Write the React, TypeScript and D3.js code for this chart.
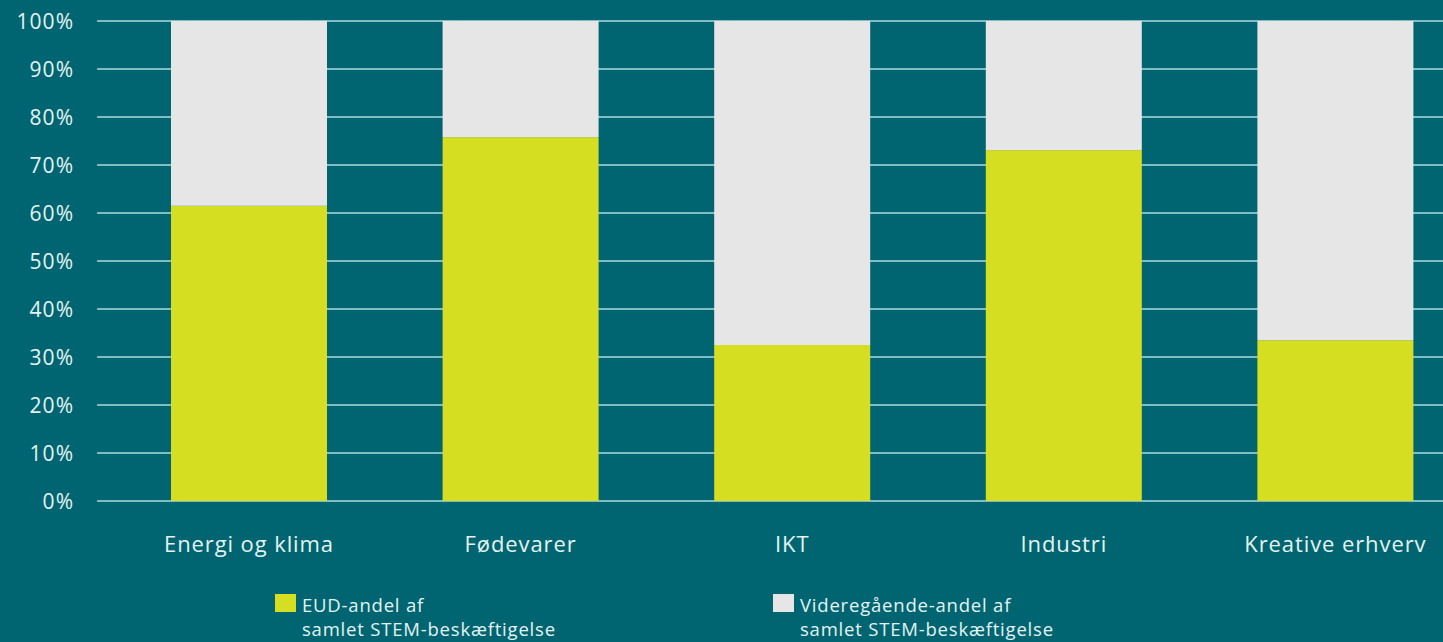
import React from "react";
import * as d3 from "d3";

const categories = ["Energi og klima", "Fødevarer", "IKT", "Industri", "Kreative erhverv"];
const eudShare = [61.5, 75.8, 32.5, 73.1, 33.5];
const videreShare = eudShare.map((v) => 100 - v);
const yTicks = [0, 10, 20, 30, 40, 50, 60, 70, 80, 90, 100];
const legendItems = [
  { lines: ["EUD-andel af", "samlet STEM-beskæftigelse"], key: "eud" },
  { lines: ["Videregående-andel af", "samlet STEM-beskæftigelse"], key: "vid" },
];

const W = 1443;
const H = 642;
const BG = "#006570";
const YELLOW = "#d6de21";
const GREY = "#e6e6e6";
const GRID = "#a9dbe2";
const TEXT = "#e4f3f3";
const FONT = "'Open Sans', 'DejaVu Sans', sans-serif";

export default function App() {
  const y = d3.scaleLinear().domain([0, 100]).range([501, 21]);
  const x = d3
    .scaleBand<string>()
    .domain(categories)
    .range([113.2, 1471.2])
    .paddingInner(0.4256)
    .paddingOuter(0.2128);

  const colors = [YELLOW, GREY];
  const stack = d3.stack<any>().keys(["eud", "vid"])(
    categories.map((c, i) => ({ cat: c, eud: eudShare[i], vid: videreShare[i] }))
  );

  return (
    <div style={{ position: "fixed", left: 0, top: 0, width: W, height: H, background: BG }}>
      <svg width={W} height={H} style={{ display: "block" }}>
        <rect x={0} y={0} width={W} height={H} fill={BG} />
        {yTicks.map((t) => (
          <g key={t}>
            <line x1={97} x2={W} y1={y(t)} y2={y(t)} stroke={GRID} strokeWidth={1.5} />
            <text
              x={74}
              y={y(t)}
              dy="0.36em"
              textAnchor="end"
              fill={TEXT}
              fontFamily={FONT}
              fontSize={21}
              letterSpacing={1}
            >
              {t}%
            </text>
          </g>
        ))}
        {stack.map((layer, li) => (
          <g key={layer.key} fill={colors[li]}>
            {layer.map((d, i) => (
              <rect
                key={i}
                x={x(categories[i])}
                width={x.bandwidth()}
                y={y(d[1])}
                height={y(d[0]) - y(d[1])}
              />
            ))}
          </g>
        ))}
        {categories.map((c) => (
          <text
            key={c}
            x={(x(c) as number) + x.bandwidth() / 2}
            y={552}
            textAnchor="middle"
            fill={TEXT}
            fontFamily={FONT}
            fontSize={22}
            letterSpacing={0.9}
          >
            {c}
          </text>
        ))}
        {legendItems.map((item, i) => {
          const lx = i === 0 ? 275 : 773;
          return (
            <g key={item.key}>
              <rect x={lx} y={594} width={21} height={18} fill={colors[i]} />
              {item.lines.map((ln, j) => (
                <text
                  key={j}
                  x={lx + 27}
                  y={612 + j * 24}
                  fill={TEXT}
                  fontFamily={FONT}
                  fontSize={18.5}
                  letterSpacing={0.8}
                >
                  {ln}
                </text>
              ))}
            </g>
          );
        })}
      </svg>
    </div>
  );
}
